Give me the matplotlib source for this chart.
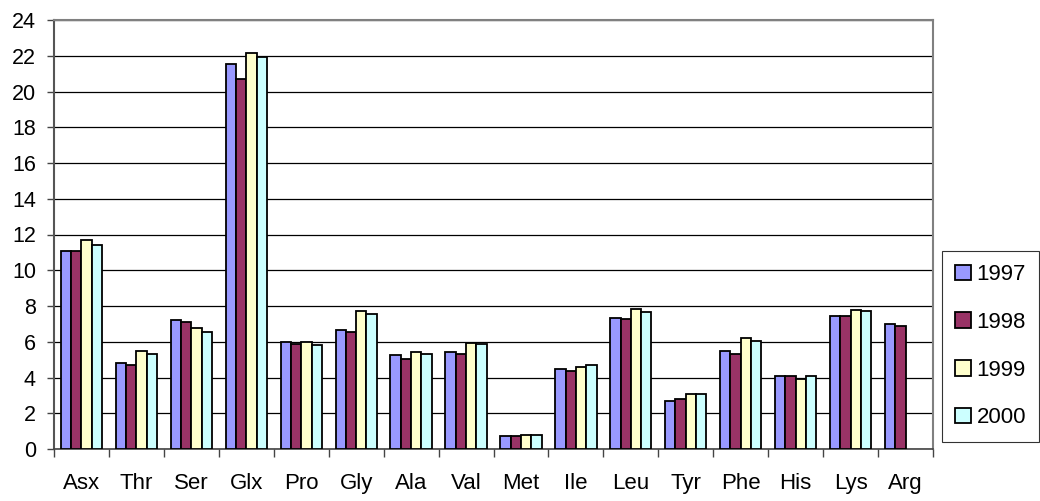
import matplotlib
matplotlib.use("Agg")
import matplotlib.pyplot as plt
import numpy as np

plt.rcParams['font.family'] = ['Liberation Sans', 'DejaVu Sans']

categories = ["Asx", "Thr", "Ser", "Glx", "Pro", "Gly", "Ala", "Val", "Met",
              "Ile", "Leu", "Tyr", "Phe", "His", "Lys", "Arg"]
years = ["1997", "1998", "1999", "2000"]
v1997 = [11.1, 4.8, 7.2, 21.55, 6.0, 6.65, 5.25, 5.45, 0.75, 4.45, 7.35, 2.7, 5.5, 4.1, 7.45, 7.0]
v1998 = [11.05, 4.7, 7.1, 20.7, 5.9, 6.55, 5.05, 5.3, 0.75, 4.35, 7.3, 2.8, 5.3, 4.1, 7.45, 6.9]
v1999 = [11.7, 5.5, 6.75, 22.15, 6.0, 7.7, 5.4, 5.95, 0.8, 4.6, 7.85, 3.05, 6.2, 3.9, 7.75, np.nan]
v2000 = [11.4, 5.3, 6.55, 21.95, 5.8, 7.55, 5.3, 5.85, 0.8, 4.7, 7.65, 3.1, 6.05, 4.1, 7.7, np.nan]
colors = ["#9999FF", "#993366", "#FFFFCC", "#CCFFFF"]
yticks = list(range(0, 25, 2))

fig = plt.figure(figsize=(10.4, 5.01), dpi=100)
ax = fig.add_axes([54/1040, 1-449/501, (933-54)/1040, (449-20)/501])

x = np.arange(len(categories))
bw = 0.1875
series = [v1997, v1998, v1999, v2000]
for i, (vals, c, lab) in enumerate(zip(series, colors, years)):
    ax.bar(x + (i - 1.5) * bw, vals, width=bw, color=c, edgecolor="black",
           linewidth=1.3, label=lab, zorder=3)

ax.set_xlim(-0.5, len(categories) - 0.5)
ax.set_ylim(0, 24)
ax.set_yticks(yticks)
ax.set_yticklabels([str(t) for t in yticks], fontsize=15.5)
ax.yaxis.grid(True, color="black", linewidth=0.9, zorder=0)
ax.set_axisbelow(True)

ax.set_xticks(x)
ax.set_xticklabels(categories, fontsize=16)
ax.tick_params(axis="x", length=0, pad=17)
# boundary ticks
ax.set_xticks(np.arange(-0.5, len(categories) + 0.5, 1), minor=True)
ax.tick_params(axis="x", which="minor", length=6, width=1, color="#444444", direction="out")
ax.tick_params(axis="y", length=5, width=1, color="#444444", direction="out", pad=8)

for s in ["top", "right", "left"]:
    ax.spines[s].set_color("#808080")
    ax.spines[s].set_linewidth(1.5)
ax.spines["left"].set_color("#555555")
ax.spines["bottom"].set_color("#444444")
ax.spines["bottom"].set_linewidth(1.2)

leg = ax.legend(loc="upper left", bbox_to_anchor=(942/1040, 1-251/501), bbox_transform=fig.transFigure,
                frameon=True, fancybox=False, edgecolor="black", fontsize=16,
                handlelength=0.7, handleheight=0.7, handletextpad=0.25,
                labelspacing=1.2, borderpad=0.6, borderaxespad=0)
leg.get_frame().set_linewidth(0.8)

fig.savefig("out.png", dpi=100)
